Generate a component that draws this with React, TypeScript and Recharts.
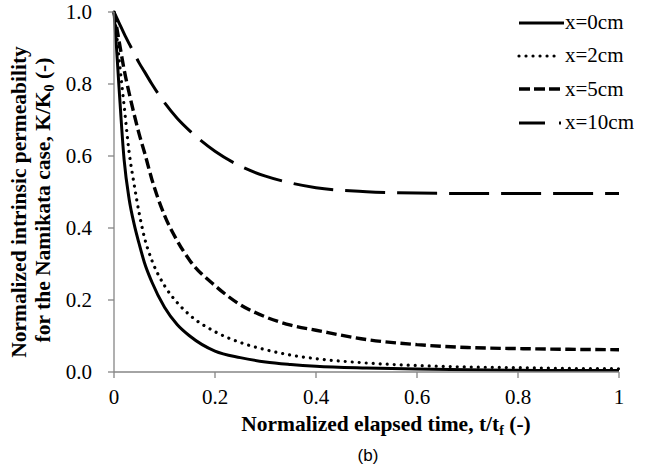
import React from "react";
import { LineChart, Line, XAxis, YAxis, Legend } from "recharts";

const tValues = [0, 0.005, 0.01, 0.02, 0.03, 0.04, 0.05, 0.06, 0.075, 0.1, 0.125, 0.15, 0.2, 0.25, 0.3, 0.35, 0.4, 0.5, 0.6, 0.7, 0.8, 0.9, 1.0];
const x0cm = [1.0, 0.9, 0.79, 0.59, 0.48, 0.41, 0.355, 0.305, 0.25, 0.18, 0.132, 0.1, 0.058, 0.04, 0.028, 0.021, 0.016, 0.011, 0.008, 0.006, 0.005, 0.004, 0.004];
const x2cm = [1.0, 0.94, 0.87, 0.74, 0.61, 0.52, 0.44, 0.375, 0.31, 0.24, 0.193, 0.158, 0.112, 0.082, 0.062, 0.047, 0.037, 0.025, 0.018, 0.014, 0.012, 0.01, 0.009];
const x5cm = [1.0, 0.96, 0.92, 0.84, 0.775, 0.715, 0.66, 0.612, 0.535, 0.435, 0.365, 0.31, 0.24, 0.187, 0.153, 0.13, 0.116, 0.09, 0.076, 0.068, 0.065, 0.063, 0.062];
const x10cm = [1.0, 0.985, 0.97, 0.94, 0.912, 0.885, 0.858, 0.835, 0.8, 0.748, 0.705, 0.67, 0.613, 0.572, 0.544, 0.525, 0.512, 0.501, 0.497, 0.496, 0.496, 0.496, 0.496];

const seriesNames = ["x=0cm", "x=2cm", "x=5cm", "x=10cm"];
const xTicks = [0, 0.2, 0.4, 0.6, 0.8, 1];
const yTicks = [0, 0.2, 0.4, 0.6, 0.8, 1.0];

const data = tValues.map((t, i) => ({
  t,
  s0: x0cm[i],
  s2: x2cm[i],
  s5: x5cm[i],
  s10: x10cm[i],
}));

const styles = [
  { key: "s0", dash: undefined, legendDash: undefined, cap: "butt", width: 3, lw: 45 },
  { key: "s2", dash: "0.01 7", legendDash: "0.01 7", cap: "round", width: 3.2, lw: 38 },
  { key: "s5", dash: "10.5 4.5", legendDash: "11 4", cap: "butt", width: 3.4, lw: 41 },
  { key: "s10", dash: "40 12", legendDash: "26 14", cap: "butt", width: 3, lw: 42 },
];

const serif = "Liberation Serif, Times New Roman, serif";
const axisColor = "#868686";

function XTick(props: any) {
  const { x, y, payload } = props;
  const v = payload.value;
  const label = v === 0 ? "0" : v === 1 ? "1" : String(v);
  return (
    <text x={x} y={y + 26} textAnchor="middle" fontFamily={serif} fontSize={21} fill="#000">
      {label}
    </text>
  );
}

function YTick(props: any) {
  const { x, y, payload } = props;
  return (
    <text x={x} y={y + 7} textAnchor="end" fontFamily={serif} fontSize={21} fill="#000">
      {Number(payload.value).toFixed(1)}
    </text>
  );
}

function LegendContent() {
  return (
    <div style={{ fontFamily: serif, fontSize: 21, color: "#000" }}>
      {seriesNames.map((name, i) => (
        <div key={name} style={{ display: "flex", alignItems: "center", height: 33.3 }}>
          <svg width={48} height={10} style={{ display: "block" }}>
            <line
              x1={2}
              y1={5}
              x2={2 + styles[i].lw}
              y2={5}
              stroke="#000"
              strokeWidth={styles[i].width}
              strokeDasharray={styles[i].legendDash}
              strokeLinecap={styles[i].cap as any}
            />
          </svg>
          <span style={{ marginLeft: 0, lineHeight: "21px" }}>{name}</span>
        </div>
      ))}
    </div>
  );
}

export default function App() {
  return (
    <div style={{ position: "absolute", left: 0, top: 0, width: 663, height: 472, background: "#fff" }}>
      <LineChart
        width={663}
        height={472}
        data={data}
        margin={{ top: 12, right: 44, bottom: 70, left: 0 }}
      >
        <XAxis
          dataKey="t"
          type="number"
          domain={[0, 1]}
          ticks={xTicks}
          height={30}
          stroke={axisColor}
          strokeWidth={1.3}
          tickSize={6}
          tickMargin={0}
          tick={<XTick />}
        />
        <YAxis
          type="number"
          domain={[0, 1]}
          ticks={yTicks}
          width={114}
          stroke={axisColor}
          strokeWidth={1.3}
          tickSize={6}
          tickMargin={16}
          tick={<YTick />}
        />
        <Legend
          verticalAlign="middle"
          align="center"
          layout="vertical"
          content={<LegendContent />}
          wrapperStyle={{ position: "absolute", left: 517, top: 6, width: 146, height: 140 }}
        />
        {styles.map((s, i) => (
          <Line
            key={s.key}
            type="monotone"
            dataKey={s.key}
            name={seriesNames[i]}
            stroke="#000"
            strokeWidth={s.width}
            strokeDasharray={s.dash}
            strokeLinecap={s.cap as any}
            dot={false}
            activeDot={false}
            isAnimationActive={false}
          />
        ))}
      </LineChart>
      <svg
        width={663}
        height={472}
        style={{ position: "absolute", left: 0, top: 0, pointerEvents: "none" }}
      >
        <text
          x={26}
          y={202}
          transform="rotate(-90, 26, 202)"
          textAnchor="middle"
          fontFamily={serif}
          fontWeight="bold"
          fontSize={21.5}
          fill="#000"
        >
          Normalized intrinsic permeability
        </text>
        <text
          x={49.5}
          y={200}
          transform="rotate(-90, 49.5, 200)"
          textAnchor="middle"
          fontFamily={serif}
          fontWeight="bold"
          fontSize={21.5}
          fill="#000"
        >
          for the Namikata case, K/K
          <tspan fontSize={14} dy={4}>0</tspan>
          <tspan dy={-4}> (-)</tspan>
        </text>
        <text
          x={386}
          y={431}
          textAnchor="middle"
          fontFamily={serif}
          fontWeight="bold"
          fontSize={21.5}
          fill="#000"
        >
          Normalized elapsed time, t/t
          <tspan fontSize={14} dy={4}>f</tspan>
          <tspan dy={-4}> (-)</tspan>
        </text>
        <text
          x={368}
          y={461}
          textAnchor="middle"
          fontFamily="Liberation Sans, Arial, sans-serif"
          fontSize={17}
          fill="#000"
        >
          (b)
        </text>
      </svg>
    </div>
  );
}
